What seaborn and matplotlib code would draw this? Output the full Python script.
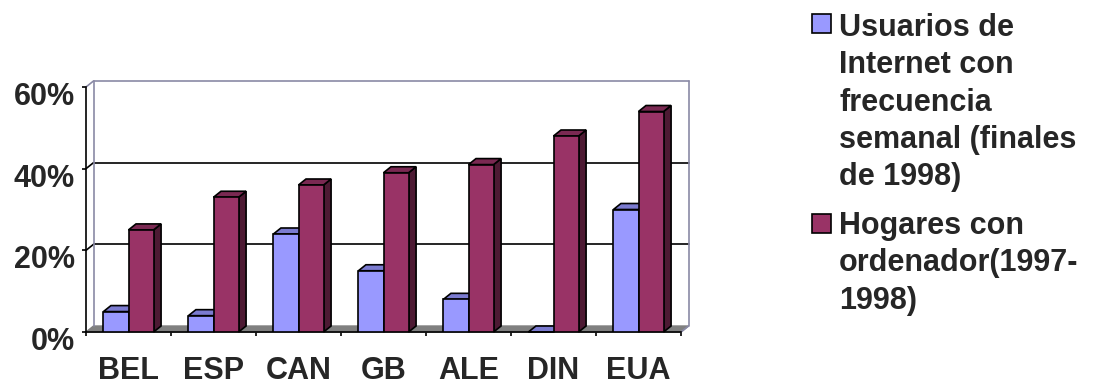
import numpy as np
import pandas as pd
import matplotlib
matplotlib.use("Agg")
import matplotlib.pyplot as plt
import matplotlib.transforms as mtransforms
from matplotlib.patches import Polygon, Rectangle
from matplotlib.ticker import FixedLocator, PercentFormatter
import seaborn as sns

# Datos
paises = ["BEL", "ESP", "CAN", "GB", "ALE", "DIN", "EUA"]
usuarios_internet = [5, 4, 24, 15, 8, 0, 30]
hogares_ordenador = [25, 33, 36, 39, 41, 48, 54]
series = ["Usuarios de Internet con frecuencia semanal (finales de 1998)",
          "Hogares con ordenador(1997-1998)"]
etiquetas_leyenda = ["Usuarios de\nInternet con\nfrecuencia\nsemanal (finales\nde 1998)",
                     "Hogares con\nordenador(1997-\n1998)"]
marcas_y = [0, 20, 40, 60]

sns.set_style("white")
plt.rcParams["font.family"] = ["Liberation Sans", "DejaVu Sans"]
plt.rcParams["font.weight"] = "bold"

df = pd.DataFrame({
    "pais": paises * 2,
    "valor": usuarios_internet + hogares_ordenador,
    "serie": [series[0]] * len(paises) + [series[1]] * len(paises),
})

color_frente = ["#9999FF", "#993366"]
color_arriba = ["#7B7BD0", "#7A2952"]
color_lado = ["#6262A8", "#4D1A33"]
color_marco = "#8A8AA6"
color_suelo = "#808080"
LW = 1.2
FS = 22

W, H = 1106, 382
fig = plt.figure(figsize=(W / 100, H / 100), dpi=100)
ax = fig.add_axes([86 / W, 1 - 332 / H, (681 - 86) / W, (332 - 87) / H])

sns.barplot(data=df, x="pais", y="valor", hue="serie", order=paises,
            hue_order=series, palette=color_frente, width=0.59, gap=0,
            saturation=1, edgecolor="black", linewidth=LW, legend=False,
            ax=ax, zorder=4)

ax.set_xlim(-0.5, len(paises) - 0.5)
ax.set_ylim(0, 60)
x_izq, x_der = ax.get_xlim()

# profundidad del efecto 3D (en pixeles) convertida a unidades de datos
DX, DY = 7.5, 6.0
p0 = ax.transData.transform((0, 0))
ddx, ddy = ax.transData.inverted().transform(p0 + np.array([DX, DY]))

# suelo
ax.add_patch(Polygon([(x_izq, 0), (x_der, 0), (x_der + ddx, ddy), (x_izq + ddx, ddy)],
                     closed=True, fc=color_suelo, ec=color_suelo, lw=1,
                     zorder=1, clip_on=False))

# pared del fondo y lineas de cuadricula
for v in marcas_y[1:]:
    c = color_marco if v == marcas_y[-1] else "black"
    ax.plot([x_izq + ddx, x_der + ddx], [v + ddy, v + ddy], color=c, lw=LW,
            zorder=1.5, clip_on=False)
    ax.plot([x_izq, x_izq + ddx], [v, v + ddy], color=c, lw=LW,
            zorder=1.5, clip_on=False)
ax.plot([x_izq + ddx, x_izq + ddx], [ddy, 60 + ddy], color=color_marco, lw=LW,
        zorder=1.5, clip_on=False)
ax.plot([x_der + ddx, x_der + ddx], [ddy, 60 + ddy], color=color_marco, lw=LW,
        zorder=1.5, clip_on=False)
ax.plot([x_der, x_der + ddx], [0, ddy], color=color_marco, lw=LW,
        zorder=1.5, clip_on=False)

# caras superior y lateral de cada barra
for i, cont in enumerate(ax.containers):
    for rect in cont:
        x0 = rect.get_x()
        x1 = x0 + rect.get_width()
        y1 = rect.get_height()
        ax.add_patch(Polygon([(x1, 0), (x1 + ddx, ddy), (x1 + ddx, y1 + ddy), (x1, y1)],
                             closed=True, fc=color_lado[i], ec="black", lw=LW,
                             zorder=3, clip_on=False))
        ax.add_patch(Polygon([(x0, y1), (x1, y1), (x1 + ddx, y1 + ddy), (x0 + ddx, y1 + ddy)],
                             closed=True, fc=color_arriba[i], ec="black", lw=LW,
                             zorder=3, clip_on=False))

# ejes
for s in ["top", "right"]:
    ax.spines[s].set_visible(False)
for s in ["left", "bottom"]:
    ax.spines[s].set_color("black")
    ax.spines[s].set_linewidth(LW)
    ax.spines[s].set_zorder(2.5)

ax.set_yticks(marcas_y)
ax.yaxis.set_major_formatter(PercentFormatter(xmax=100, decimals=0))
ax.tick_params(axis="y", left=True, direction="out", length=3, width=LW,
               color="black", pad=5, labelsize=FS)
ax.xaxis.set_minor_locator(FixedLocator(np.arange(x_izq, x_der + 0.01, 1.0)))
ax.tick_params(axis="x", which="major", bottom=True, length=0, pad=17,
               labelsize=FS)
ax.tick_params(axis="x", which="minor", bottom=True, direction="out",
               length=3, width=LW, color="black")
ax.set_xlabel("")
ax.set_ylabel("")
for lbl in ax.get_xticklabels() + ax.get_yticklabels():
    lbl.set_fontweight("bold")
desplazar = mtransforms.ScaledTranslation(0, -0.065, fig.dpi_scale_trans)
for lbl in ax.get_yticklabels():
    lbl.set_transform(lbl.get_transform() + desplazar)

# leyenda
for color, etiqueta, y_cuadro, y_tope in zip(color_frente, etiquetas_leyenda,
                                              [33, 233], [13, 211]):
    fig.add_artist(Rectangle((812 / W, 1 - y_cuadro / H), 19 / W, 19 / H,
                             transform=fig.transFigure, fc=color, ec="black",
                             lw=LW))
    fig.text(839 / W, 1 - y_tope / H, etiqueta, ha="left", va="top",
             fontsize=FS, fontweight="bold", linespacing=1.32)

fig.savefig("out.png", dpi=100)
